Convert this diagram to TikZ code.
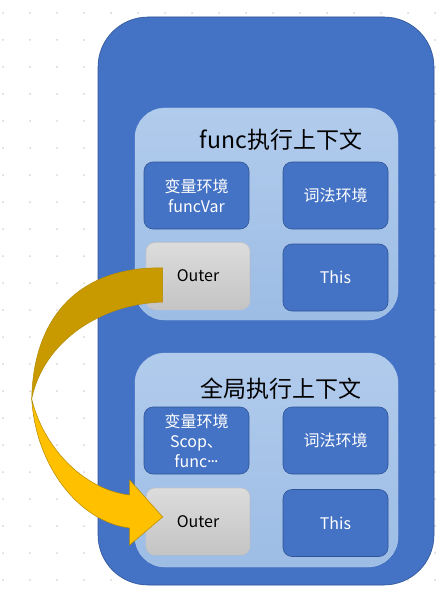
\documentclass[tikz,border=0pt]{standalone}
\usepackage{fontspec}
\setmainfont{Noto Sans CJK SC}
\usetikzlibrary{calc,positioning}
\definecolor{frameblue}{HTML}{4472C4}
\definecolor{boxedge}{HTML}{2F5597}
\definecolor{paneltop}{HTML}{B1CBEC}
\definecolor{panelbot}{HTML}{9DBDE5}
\definecolor{outertop}{HTML}{DCDCDC}
\definecolor{outerbot}{HTML}{C4C4C4}
\definecolor{arrowdark}{HTML}{C99A00}
\definecolor{arrowlight}{HTML}{FFC000}
\definecolor{arrowedge}{HTML}{B38900}
\definecolor{dotgray}{HTML}{D4D4D4}
\newcommand{\middots}{\raisebox{0.3em}{.\kern-1pt.\kern-1pt.}}

\begin{document}
\begin{tikzpicture}[x=1pt,y=-1pt,
  frame/.style={rectangle,rounded corners=50pt,fill=frameblue,draw=boxedge,line width=0.6pt,
    minimum width=336pt,minimum height=568pt},
  panel/.style={rectangle,rounded corners=30pt,top color=paneltop,bottom color=panelbot,
    draw=paneltop,minimum width=263pt},
  envbox/.style={rectangle,rounded corners=9pt,fill=frameblue,draw=boxedge,line width=0.6pt,
    minimum width=105pt,minimum height=67pt,text=white,align=center,inner sep=2pt,
    font=\fontsize{16}{20}\selectfont},
  outerbox/.style={envbox,top color=outertop,bottom color=outerbot,draw=gray!45,text=black,
    minimum width=104pt},
  ctxtitle/.style={font=\fontsize{23}{26}\selectfont,text=black},
  bandedge/.style={draw=arrowedge,line width=0.5pt}]
  \useasboundingbox (0,0) rectangle (439,591);
  % dotted background
  \foreach \i in {0,...,16}
    \foreach \j in {0,...,21}
      \fill[dotgray] (3+27*\i,13+27*\j) circle (1pt);
  \node[frame] (global) at (266,301) {};
  % func context
  \node[panel,minimum height=212pt] (funcCtx) at (266.5,214) {};
  \node[ctxtitle] (funcTitle) at (281,140) {func执行上下文};
  \node[envbox] (funcVar) at (196.5,195.5) {变量环境\\funcVar};
  \node[envbox] (funcLex) at (335.5,195.5) {词法环境};
  \node[outerbox] (funcOuter) at (198,276) {Outer};
  \node[envbox] (funcThis) at (335.5,277.5) {This};
  % global context
  \node[panel,minimum height=214pt] (globCtx) at (266.5,460) {};
  \node[ctxtitle] (globTitle) at (281,389) {全局执行上下文};
  \node[envbox] (globVar) at (196.5,440.5) {变量环境\\Scop、\\func\middots};
  \node[envbox] (globLex) at (335.5,440.5) {词法环境};
  \node[outerbox] (globOuter) at (198,521.5) {Outer};
  \node[envbox] (globThis) at (335.5,523) {This};
  % curved arrow from func Outer to global Outer
  \coordinate (tailT) at ($(funcOuter.west)+(17,-8)$);
  \coordinate (tailB) at ($(funcOuter.west)+(17,26)$);
  \coordinate (bend) at ($(funcOuter.west)!0.5!(globOuter.west)+(-114,0)$);
  \coordinate (tip) at ($(globOuter.west)+(17,-4.5)$);
  \coordinate (headT) at ($(globOuter.west)+(-16,-41.5)$);
  \coordinate (headB) at ($(globOuter.west)+(-16,23.5)$);
  \coordinate (neckT) at ($(globOuter.west)+(-16,-26.5)$);
  \coordinate (neckB) at ($(globOuter.west)+(-16,6.5)$);
  \filldraw[arrowdark,bandedge] (tailT) .. controls +(-73,-2) and +(2,-92) .. (bend)
    .. controls +(12,-57) and +(-63,2) .. (tailB) -- cycle;
  \filldraw[fill=arrowlight,bandedge] (bend) .. controls +(4,68) and +(-50,-6) .. (neckB)
    -- (headB) -- (tip) -- (headT) -- (neckT) .. controls +(-45,-5) and +(12,50) .. (bend) -- cycle;
\end{tikzpicture}
\end{document}
